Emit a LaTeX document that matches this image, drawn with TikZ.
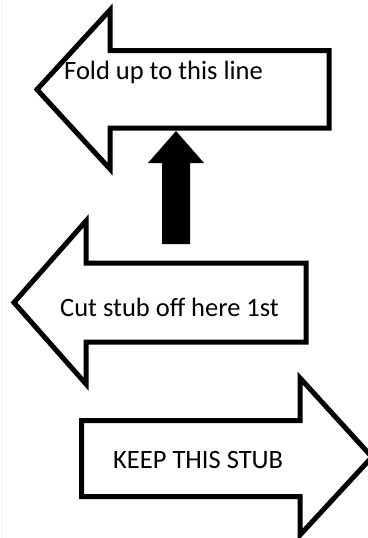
\documentclass[tikz,border=0pt]{standalone}
\usepackage{fontspec}
\setmainfont{Carlito}
\begin{document}
\begin{tikzpicture}[x=1pt,y=-1pt,
  outline/.style={draw=black,line width=5pt,line join=miter,fill=white},
  label/.style={inner sep=0pt,anchor=base west,font=\fontsize{26.5}{30}\selectfont}]
\useasboundingbox (0,0) rectangle (367,538);
\fill[white] (0,0) rectangle (367,538);
\draw[gray!12,line width=1pt] (1,0) -- (1,538);
% top left-pointing arrow
\draw[outline] (37,89.5) -- (110,10) -- (110,50.5) -- (329,50.5) -- (329,128) -- (110,128) -- (110,169) -- cycle;
% middle left-pointing arrow
\draw[outline] (14,302.5) -- (86,221) -- (86,263) -- (306,263) -- (306,342) -- (86,342) -- (86,384) -- cycle;
% bottom right-pointing arrow
\draw[outline] (81.5,420.5) -- (300,420.5) -- (300,378) -- (372,457) -- (300,535) -- (300,496.5) -- (81.5,496.5) -- cycle;
% black up arrow
\fill[black] (176,131) -- (204,163) -- (190,163) -- (190,244) -- (162,244) -- (162,163) -- (148,163) -- cycle;
\node[label] (fold) at (64,79) {Fold up to this line};
\node[label] (cut) at (60,316.5) {Cut stub off here 1st};
\node[label] (keep) at (113,468) {KEEP THIS STUB};
\end{tikzpicture}
\end{document}
